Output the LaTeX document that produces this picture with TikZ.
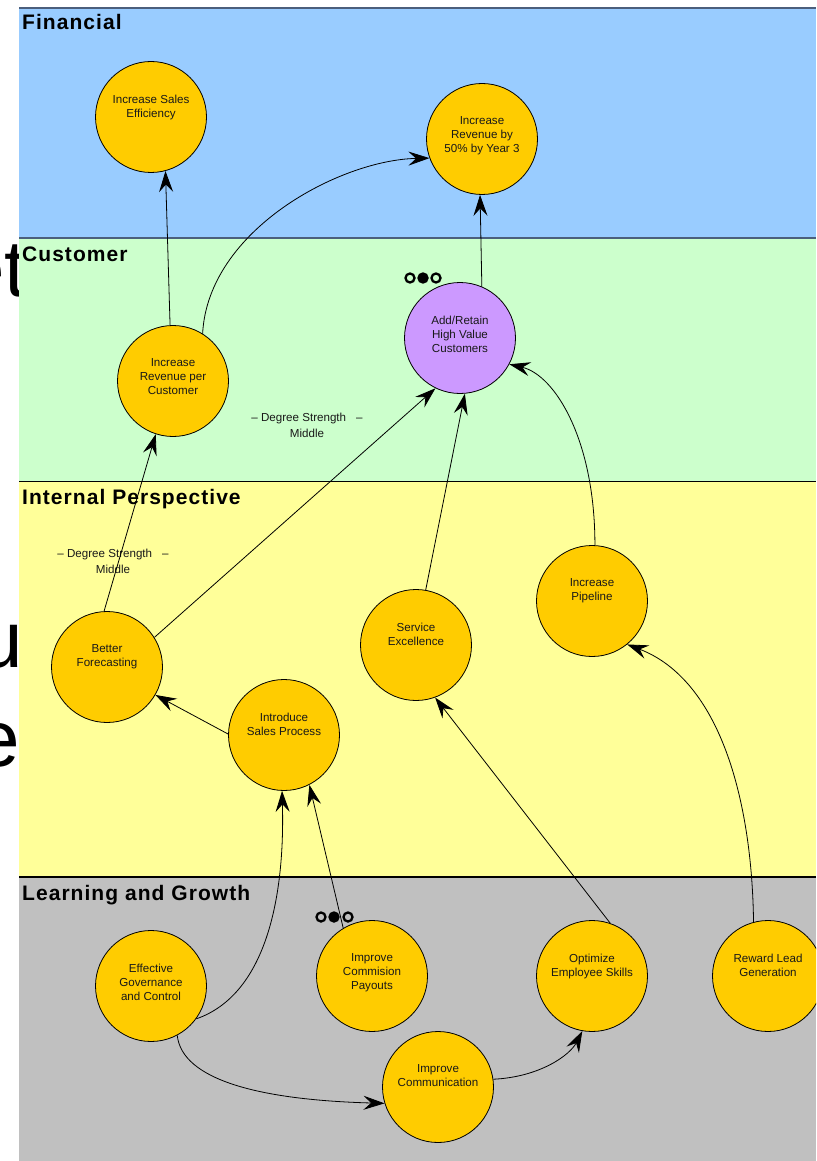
\documentclass[tikz,border=0pt]{standalone}
\usepackage{fontspec}
\setmainfont{Liberation Sans}
\newfontfamily\bandfont{Liberation Sans}[LetterSpace=5]
\usetikzlibrary{arrows.meta}
\definecolor{finc}{HTML}{99CCFF}
\definecolor{cusc}{HTML}{CCFFCC}
\definecolor{intc}{HTML}{FFFF99}
\definecolor{lrnc}{HTML}{C0C0C0}
\definecolor{goalc}{HTML}{FFCC00}
\definecolor{purc}{HTML}{CC99FF}
\definecolor{rulec}{HTML}{4B5F7D}
\tikzset{
  goal/.style={circle,draw=black,line width=0.8pt,fill=goalc,minimum size=111pt,inner sep=0pt},
  gtxt/.style={anchor=north,inner sep=0pt,yshift=22.3pt,align=center,
    font=\fontsize{11.6}{14}\selectfont,text=black!90},
  band/.style={anchor=base west,inner sep=0pt,font=\bandfont\bfseries\fontsize{21}{24}\selectfont},
  frag/.style={anchor=base east,inner sep=0pt,font=\fontsize{80}{90}\selectfont},
  deg/.style={align=center,inner sep=0pt,font=\fontsize{11.6}{16}\selectfont,text=black!90},
  ring/.style={circle,draw=black,line width=2.3pt,minimum size=9pt,inner sep=0pt},
  ringfill/.style={ring,fill=black},
  link/.style={draw=black,line width=0.8pt,-{Stealth[length=21pt,width=14pt,inset=7.5pt]}},
}
\begin{document}
\begin{tikzpicture}[x=1pt,y=-1pt]
\useasboundingbox (0,0) rectangle (816,1161);
\clip (0,0) rectangle (816,1161);
\fill[white] (0,0) rectangle (816,1161);
% background text fragments
\node[frag] (fragA) at (27,296) {et};
\node[frag] (fragB) at (23,667) {u};
\node[frag] (fragC) at (20,766) {e};
% bands
\fill[finc] (19,8) rectangle (816,238);
\fill[cusc] (19,238) rectangle (816,481);
\fill[intc] (19,481) rectangle (816,877);
\fill[lrnc] (19,877) rectangle (816,1161);
\draw[rulec,line width=2.3pt] (19,8) -- (816,8);
\draw[rulec,line width=2pt] (19,238) -- (816,238);
\draw[black,line width=1pt] (19,481) -- (816,481);
\draw[black,line width=1.2pt] (19,877) -- (816,877);
\node[band] (lfin) at (22,29.5) {Financial};
\node[band] (lcus) at (22,261) {Customer};
\node[band] (lint) at (22,504) {Internal Perspective};
\node[band] (llrn) at (22,900) {Learning and Growth};
% goals
\node[goal] (ise) at (151,117) {};
\node[goal] (ir50) at (482,139) {};
\node[goal] (irpc) at (173,381) {};
\node[goal,fill=purc] (add) at (460,338) {};
\node[goal] (bf) at (107,667) {};
\node[goal] (isp) at (284,735) {};
\node[goal] (se) at (416,645) {};
\node[goal] (ip) at (592,601) {};
\node[goal] (egc) at (151,986) {};
\node[goal] (icp) at (372,976) {};
\node[goal] (oes) at (592,976) {};
\node[goal] (rlg) at (768,976) {};
\node[goal] (ic) at (438,1087) {};
\node[gtxt] (ise-t) at (ise.center) {Increase Sales\\Efficiency};
\node[gtxt] (ir50-t) at (ir50.center) {Increase\\Revenue by\\50\% by Year 3};
\node[gtxt] (irpc-t) at (irpc.center) {Increase\\Revenue per\\Customer};
\node[gtxt] (add-t) at (add.center) {Add/Retain\\High Value\\Customers};
\node[gtxt] (bf-t) at (bf.center) {Better\\Forecasting};
\node[gtxt] (isp-t) at (isp.center) {Introduce\\Sales Process};
\node[gtxt] (se-t) at (se.center) {Service\\Excellence};
\node[gtxt] (ip-t) at (ip.center) {Increase\\Pipeline};
\node[gtxt] (egc-t) at (egc.center) {Effective\\Governance\\and Control};
\node[gtxt] (icp-t) at (icp.center) {Improve\\Commision\\Payouts};
\node[gtxt] (oes-t) at (oes.center) {Optimize\\Employee Skills};
\node[gtxt] (rlg-t) at (rlg.center) {Reward Lead\\Generation};
\node[gtxt] (ic-t) at (ic.center) {Improve\\Communication};
% status dots
\node[ring] (addd1) at (410,278) {};
\node[ringfill] (addd2) at (423,278) {};
\node[ring] (addd3) at (436,278) {};
\node[ring] (icpd1) at (321,917) {};
\node[ringfill] (icpd2) at (334,917) {};
\node[ring] (icpd3) at (348,917) {};
% degree labels
\node[deg] (deg1) at (307,425) {– Degree Strength\hspace{10pt}–\\Middle};
\node[deg] (deg2) at (113,561) {– Degree Strength\hspace{10pt}–\\Middle};
% links
\draw[link] (irpc.93) -- (ise.-75);
\draw[link] (irpc.58) .. controls (208,230) and (340,160) .. (ir50.200);
\draw[link] (add.67) -- (ir50.-92);
\draw[link] (bf.93) -- (irpc.-108);
\draw[link] (bf.32) -- (add.-116);
\draw[link] (se.80) -- (add.-85);
\draw[link] (ip.87) .. controls (595,440) and (555,375) .. (add.-28);
\draw[link] (isp.179) -- (bf.-30);
\draw[link] (egc.-36) .. controls (265,995) and (285,900) .. (isp.-92);
\draw[link] (icp.121) -- (isp.-63);
\draw[link] (oes.71) -- (se.-70);
\draw[link] (rlg.105) .. controls (752,800) and (720,680) .. (ip.-51);
\draw[link] (egc.-62) .. controls (182,1080) and (260,1100) .. (ic.-163);
\draw[link] (ic.8) .. controls (540,1077) and (570,1055) .. (oes.-100);
\end{tikzpicture}
\end{document}
